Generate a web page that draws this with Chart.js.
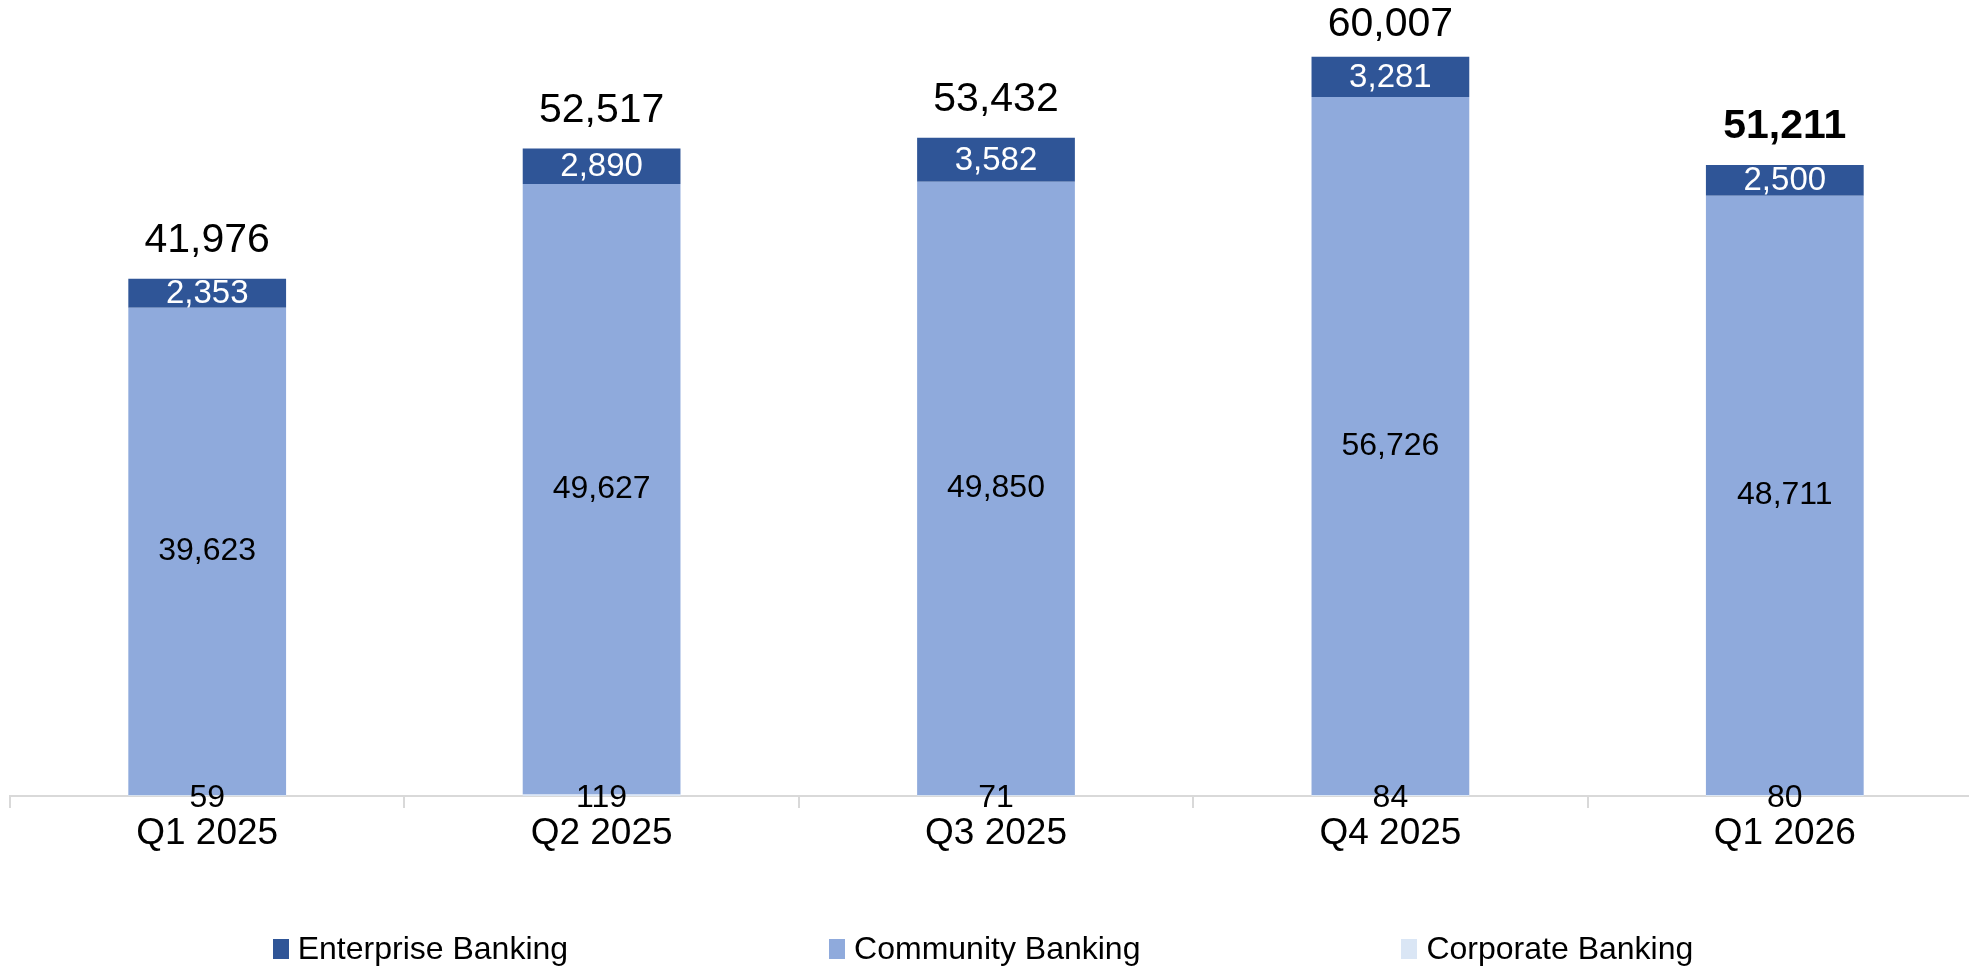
<!DOCTYPE html>
<html lang="en">
<head>
    <meta charset="UTF-8">
    <title>Deposits by Segment</title>
    <script src="https://cdn.jsdelivr.net/npm/chart.js"></script>
    <style>
        body {
            margin: 0;
            background-color: #fff;
            font-family: "Liberation Sans", Arial, sans-serif;
            overflow: hidden;
        }

        .chart-wrap {
            position: relative;
            width: 1982px;
            height: 970px;
        }

        .legend {
            position: absolute;
            left: 0;
            width: 1966px;
            top: 930px;
            display: flex;
            justify-content: center;
            gap: 261px;
            font-size: 32px;
            color: #000;
        }

        .legend span.item {
            display: flex;
            align-items: center;
        }

        .legend span.box {
            display: inline-block;
            width: 16px;
            height: 20px;
            margin-right: 9px;
        }
    </style>
</head>
<body>
    <div class="chart-wrap">
        <canvas id="segmentChart"></canvas>
        <div class="legend" id="legend"></div>
    </div>
    <script>
        const FONT = '"Liberation Sans", Arial, sans-serif';

        // Quarterly balances by segment
        const categories = ['Q1 2025', 'Q2 2025', 'Q3 2025', 'Q4 2025', 'Q1 2026'];
        const corporate = [59, 119, 71, 84, 80];
        const community = [39623, 49627, 49850, 56726, 48711];
        const enterprise = [2353, 2890, 3582, 3281, 2500];
        const totals = [41976, 52517, 53432, 60007, 51211];

        const seriesNames = ['Enterprise Banking', 'Community Banking', 'Corporate Banking'];
        const seriesColors = ['#2F5597', '#8FAADC', '#DAE6F5'];

        const fmt = v => v.toLocaleString('en-US');

        // Segment values inside the bars and totals above them
        const valueLabels = {
            id: 'valueLabels',
            afterDatasetsDraw(chart) {
                const ctx = chart.ctx;
                const corp = chart.getDatasetMeta(0).data;
                const comm = chart.getDatasetMeta(1).data;
                const ent = chart.getDatasetMeta(2).data;
                ctx.save();
                ctx.textAlign = 'center';
                ctx.textBaseline = 'middle';
                categories.forEach((c, i) => {
                    ctx.fillStyle = '#000';
                    ctx.font = '32px ' + FONT;
                    ctx.fillText(fmt(corporate[i]), corp[i].x, corp[i].base + 2);

                    ctx.font = '32px ' + FONT;
                    ctx.fillText(fmt(community[i]), comm[i].x, (comm[i].y + comm[i].base) / 2);

                    ctx.fillStyle = '#fff';
                    ctx.font = '33px ' + FONT;
                    ctx.fillText(fmt(enterprise[i]), ent[i].x, (ent[i].y + ent[i].base) / 2 + 1);

                    ctx.fillStyle = '#000';
                    const last = i === categories.length - 1;
                    ctx.font = (last ? 'bold ' : '') + '41px ' + FONT;
                    ctx.fillText(fmt(totals[i]), ent[i].x, Math.max(ent[i].y - 38, 25));
                });
                ctx.restore();
            }
        };

        const ctx = document.getElementById('segmentChart').getContext('2d');
        const segmentChart = new Chart(ctx, {
            type: 'bar',
            data: {
                labels: categories,
                datasets: [{
                    label: seriesNames[2],
                    data: corporate,
                    backgroundColor: seriesColors[2]
                }, {
                    label: seriesNames[1],
                    data: community,
                    backgroundColor: seriesColors[1]
                }, {
                    label: seriesNames[0],
                    data: enterprise,
                    backgroundColor: seriesColors[0]
                }]
            },
            options: {
                responsive: true,
                maintainAspectRatio: false,
                animation: false,
                devicePixelRatio: 1,
                layout: {
                    padding: { left: 10, right: 0, top: 0, bottom: 0 }
                },
                datasets: {
                    bar: {
                        barPercentage: 0.4,
                        categoryPercentage: 1.0,
                        borderWidth: 0
                    }
                },
                plugins: {
                    legend: { display: false },
                    tooltip: { enabled: false }
                },
                scales: {
                    x: {
                        stacked: true,
                        offset: true,
                        grid: {
                            offset: true,
                            drawOnChartArea: false,
                            tickLength: 12,
                            color: '#d9d9d9',
                            lineWidth: 2
                        },
                        border: { color: '#d9d9d9', width: 2 },
                        ticks: {
                            color: '#000',
                            padding: 4,
                            font: { family: FONT, size: 37 }
                        },
                        afterFit(scale) {
                            scale.height = 174;
                        }
                    },
                    y: {
                        stacked: true,
                        display: false,
                        min: 0,
                        max: 64700
                    }
                }
            },
            plugins: [valueLabels]
        });

        // Legend in the same order as the stack, top to bottom
        const legend = document.getElementById('legend');
        seriesNames.forEach((name, i) => {
            const item = document.createElement('span');
            item.className = 'item';
            const box = document.createElement('span');
            box.className = 'box';
            box.style.backgroundColor = seriesColors[i];
            item.appendChild(box);
            item.appendChild(document.createTextNode(name));
            legend.appendChild(item);
        });
    </script>
</body>
</html>
